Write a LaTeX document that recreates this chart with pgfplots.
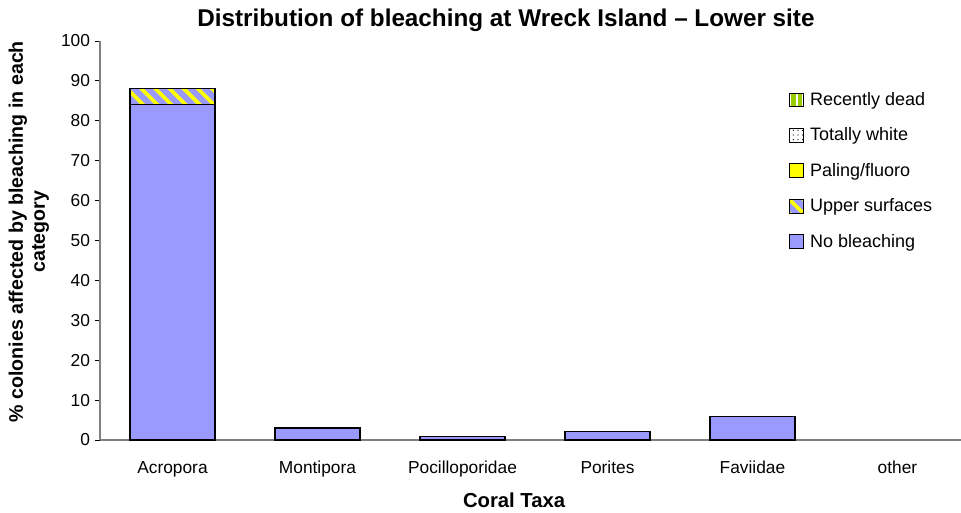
\documentclass[border=0pt]{standalone}
\usepackage{fontspec}
\setmainfont{Liberation Sans}
\usepackage{pgfplots}
\pgfplotsset{compat=1.18}
\usetikzlibrary{patterns.meta}
\definecolor{nobleach}{HTML}{9999FF}
\definecolor{fluoro}{HTML}{FFFF00}
\definecolor{deadgreen}{HTML}{99CC00}
\definecolor{axisgray}{HTML}{808080}
\pgfplotsset{
  sq legend/.style={legend image code/.code={\draw[##1] (0pt,-5.2pt) rectangle (10.5pt,5.2pt);}},
}
\begin{document}
\begin{tikzpicture}
\useasboundingbox (-75pt,-54.75pt) rectangle (645.75pt,330pt);
\begin{axis}[
  at={(0,0)}, anchor=south west, clip=false,
  scale only axis, width=645.75pt, height=299.25pt,
  ybar stacked, bar width=63.75pt,
  xmin=-0.5, xmax=5.438, ymin=0, ymax=100,
  axis x line*=bottom, axis y line*=left,
  axis line style={draw=axisgray, line width=0.8pt},
  xtick={0,...,5},
  xticklabels={Acropora,Montipora,Pocilloporidae,Porites,Faviidae,other},
  major x tick style={draw=none},
  extra x ticks={0.5,1.5,2.5,3.5,4.5},
  extra x tick labels={},
  extra x tick style={major tick length=6pt, tick align=outside, tick style={black, line width=0.6pt}},
  ytick={0,10,...,100},
  ytick pos=left, tick align=outside, major tick length=4pt,
  y tick style={black, line width=0.6pt},
  /pgf/number format/assume math mode=true,
  tick label style={font=\fontsize{13}{15}\selectfont},
  xticklabel style={yshift=-8pt, text height=9.5pt, text depth=2.5pt},
  legend style={draw=none, fill=none, at={(0.795,0.885)}, anchor=north west,
    font=\fontsize{13.5}{15}\selectfont, row sep=11.3pt, cells={anchor=west},
    nodes={inner xsep=4pt}},
  reverse legend,
]
\addplot[fill=nobleach, draw=black, line width=0.8pt, sq legend] coordinates {(0,84) (1,3) (2,0.8) (3,2.2) (4,6)};
\addlegendentry{No bleaching}
\addplot[fill=nobleach, draw=black, line width=0.8pt, sq legend,
  postaction={pattern={Lines[angle=-45,distance=7.5pt,line width=2.8pt]}, pattern color=fluoro}] coordinates {(0,4.2)};
\addlegendentry{Upper surfaces}
\addlegendimage{sq legend, fill=fluoro, draw=black, line width=0.8pt}
\addlegendentry{Paling/fluoro}
\addlegendimage{sq legend, fill=white, draw=black, line width=0.8pt,
  postaction={pattern={Dots[distance=3.5pt,radius=0.45pt]}, pattern color=black}}
\addlegendentry{Totally white}
\addlegendimage{sq legend, fill=deadgreen, draw=black, line width=0.8pt,
  postaction={pattern={Lines[angle=90,distance=5pt,line width=1.5pt,xshift=2.5pt]}, pattern color=white}}
\addlegendentry{Recently dead}
\node[font=\bfseries\fontsize{18.2}{21}\selectfont] at (rel axis cs:0.4715,1.0526) {Distribution of bleaching at Wreck Island -- Lower site};
\node[font=\bfseries\fontsize{15.2}{17}\selectfont] at (rel axis cs:0.481,-0.150) {Coral Taxa};
\node[font=\bfseries\fontsize{14.7}{16.5}\selectfont, rotate=90, align=center] at (rel axis cs:-0.0825,0.522) {\% colonies affected by bleaching in each\\category};
\end{axis}
\end{tikzpicture}
\end{document}
